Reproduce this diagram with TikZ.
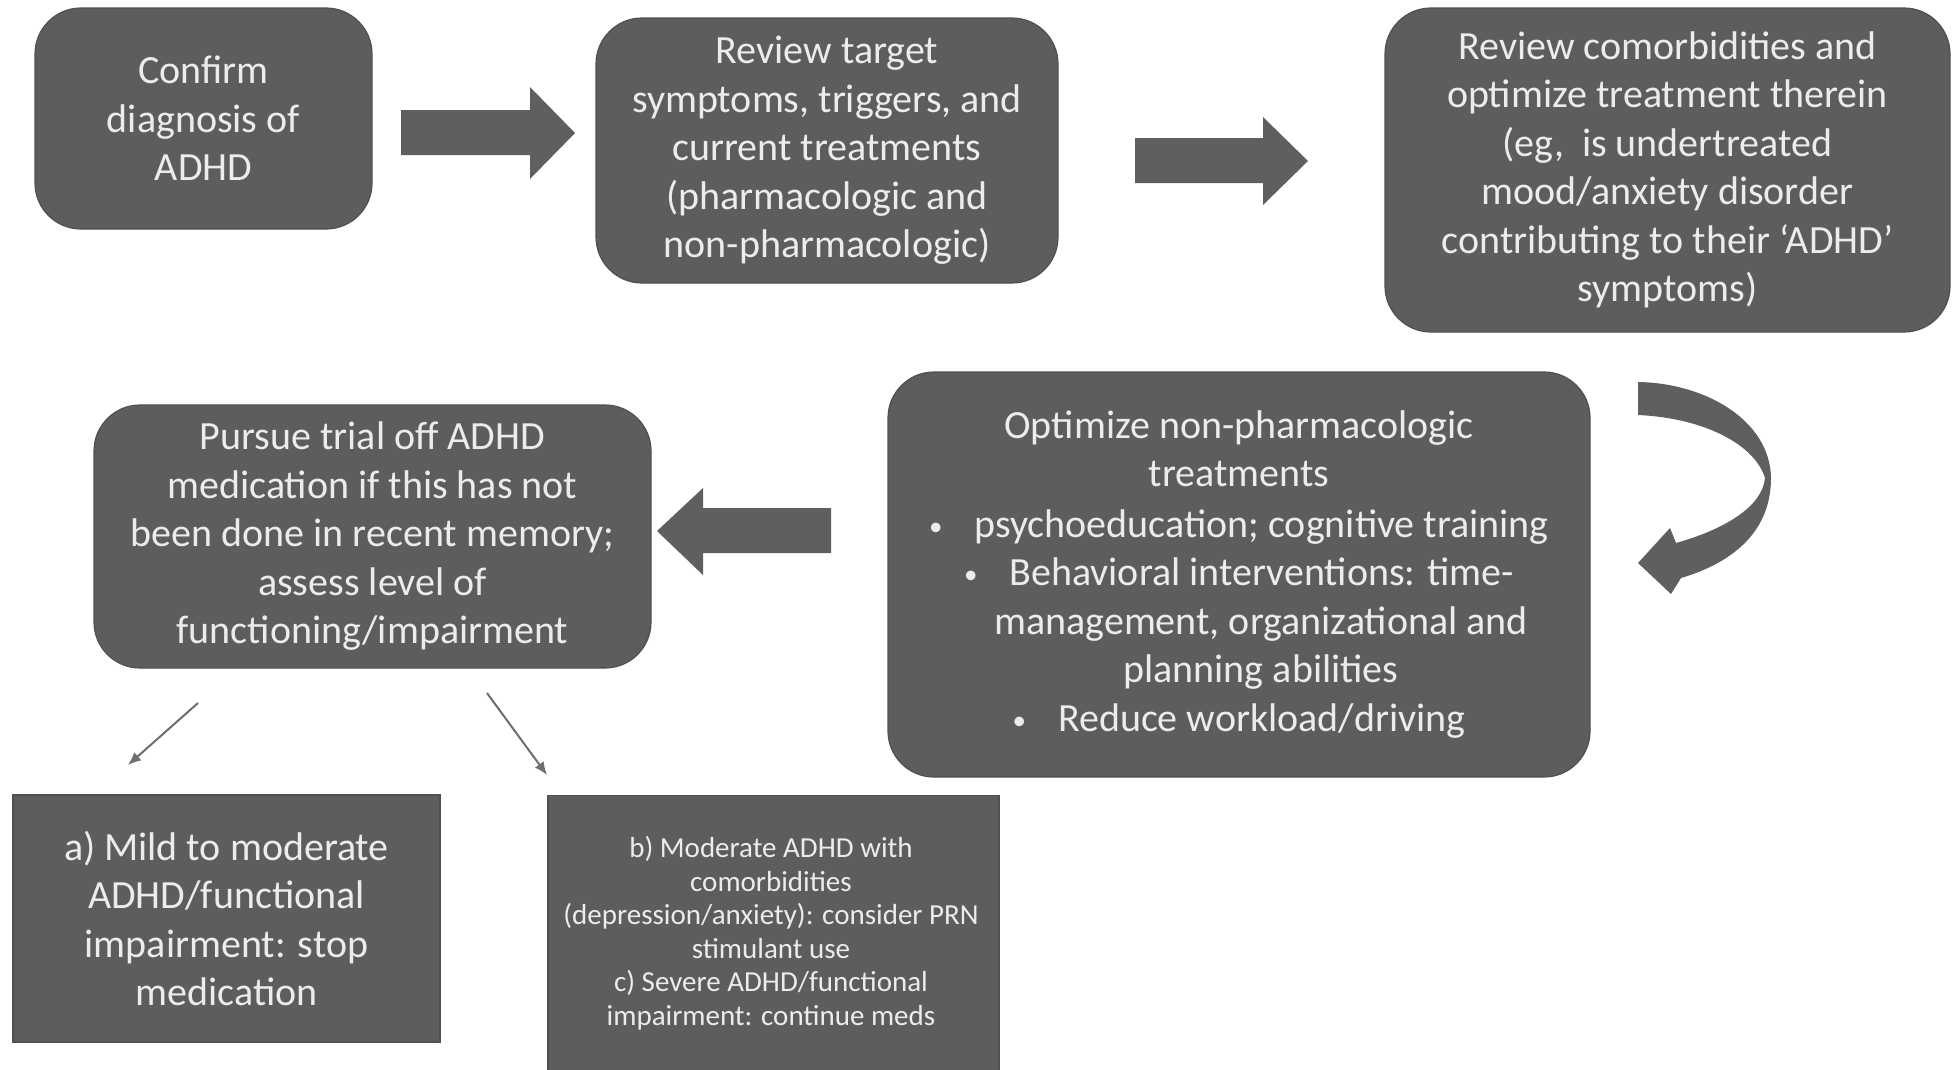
\documentclass[tikz,border=0pt]{standalone}
\usepackage{fontspec}
\setmainfont{Carlito}
\usetikzlibrary{arrows.meta}
\definecolor{boxgray}{RGB}{93,93,93}
\definecolor{boxedge}{RGB}{80,80,80}
\definecolor{arrgray}{RGB}{95,95,95}
\definecolor{thingray}{RGB}{110,110,110}
\definecolor{txt}{RGB}{236,236,236}
\newcommand{\smallbul}{\raisebox{2pt}{\fontsize{27}{27}\selectfont •}}
\begin{document}
\begin{tikzpicture}[x=1pt,y=-1pt,
  rbox/.style={draw=boxedge, fill=boxgray, rounded corners=46pt, line width=1.2pt,
    text=txt, align=center, inner sep=0pt, font=\fontsize{40}{48.5}\selectfont},
  sbox/.style={draw=boxedge, fill=boxgray, line width=1.2pt,
    text=txt, align=center, inner sep=0pt, font=\fontsize{40}{48.5}\selectfont},
  smalltxt/.style={text=txt, align=center, inner sep=0pt, font=\fontsize{29}{33.5}\selectfont},
  blockarrow/.style={fill=arrgray, draw=none},
  thinarrow/.style={draw=thingray, line width=2pt, -{Latex[length=13pt,width=11pt]}}
]
\useasboundingbox[fill=white] (0,0) rectangle (1952,1069);
\clip (0,0) rectangle (1952,1069);

% boxes
\node[rbox, minimum width=337pt, minimum height=221pt] (confirm) at (203.5,118.5)
  {Confirm\\diagnosis of\\ADHD};
\node[rbox, minimum width=462pt, minimum height=265pt] (review) at (827,150.5)
  {Review target\\symptoms, triggers, and\\current treatments\\(pharmacologic and\\non-pharmacologic)};
\node[rbox, minimum width=565pt, minimum height=324pt] (comorb) at (1667.5,170)
  {Review comorbidities and\\optimize treatment therein\\(eg,\ \ is undertreated\\mood/anxiety disorder\\contributing to their ‘ADHD’\\symptoms)};
\node[rbox, minimum width=702pt, minimum height=405pt] (optim) at (1239,574.5)
  {Optimize non-pharmacologic\\
   treatments\\[2pt]
   \smallbul\hspace{32pt}psychoeducation; cognitive training\\
   \smallbul\hspace{32pt}Behavioral interventions: time-\\
   \hspace*{44pt}management, organizational and\\
   \hspace*{44pt}planning abilities\\
   \smallbul\hspace{32pt}Reduce workload/driving};
\node[rbox, minimum width=557pt, minimum height=263pt] (pursue) at (372.5,536.5)
  {Pursue trial off ADHD\\medication if this has not\\been done in recent memory;\\assess level of\\functioning/impairment};
\node[sbox, minimum width=427pt, minimum height=247pt] (mild) at (226.5,918.5)
  {a) Mild to moderate\\ADHD/functional\\impairment: stop\\medication};
\node[sbox, minimum width=451pt, minimum height=300pt, anchor=north] (severe) at (773.5,795) {};
\node[smalltxt] (severetxt) at (771,933)
  {b) Moderate ADHD with\\comorbidities\\(depression/anxiety): consider PRN\\stimulant use\\c) Severe ADHD/functional\\impairment: continue meds};

% block arrows
\path[blockarrow] (401,110) -- (530,110) -- (530,87) -- (575,133) -- (530,179) -- (530,155) -- (401,155) -- cycle;
\path[blockarrow] (1135,138) -- (1263,138) -- (1263,117) -- (1308,161) -- (1263,205) -- (1263,183) -- (1135,183) -- cycle;
\path[blockarrow] (831,508) -- (703,508) -- (703,488) -- (657,531) -- (703,575) -- (703,553) -- (831,553) -- cycle;

% curved arrow
\path[blockarrow] (1638,382)
  .. controls (1705,383) and (1770,420) .. (1771,478)
  .. controls (1771,530) and (1735,562) .. (1681,578)
  -- (1671,594) -- (1638,563) -- (1670,528) -- (1676,543)
  .. controls (1722,530) and (1762,508) .. (1765,478)
  .. controls (1755,445) and (1705,418) .. (1638,415) -- cycle;

% thin arrows
\coordinate (a1) at (198,703);
\coordinate (a2) at (128,765);
\coordinate (b1) at (487,693);
\coordinate (b2) at (547,775);
\draw[thinarrow] (a1) -- (a2);
\draw[thinarrow] (b1) -- (b2);
\end{tikzpicture}
\end{document}
